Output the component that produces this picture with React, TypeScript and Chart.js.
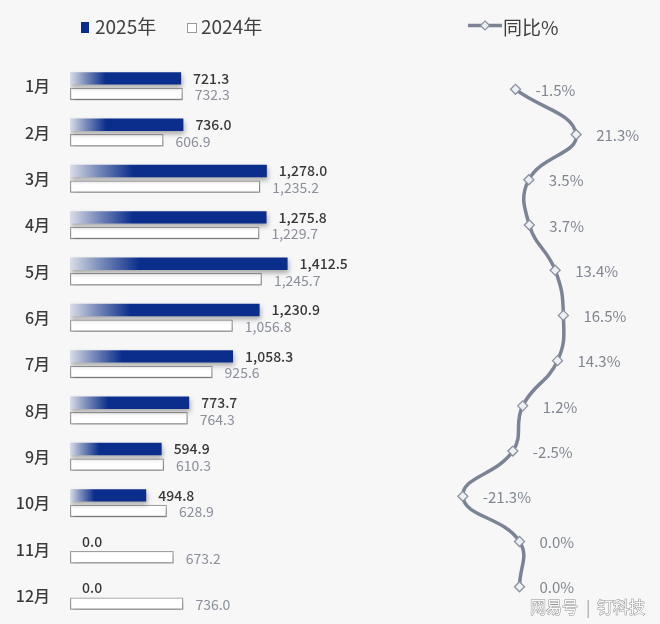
import React, { useEffect, useRef } from 'react';
import { Chart, registerables } from 'chart.js';

Chart.register(...registerables);

const months = ['1月', '2月', '3月', '4月', '5月', '6月', '7月', '8月', '9月', '10月', '11月', '12月'];
const sales2025 = [721.3, 736.0, 1278.0, 1275.8, 1412.5, 1230.9, 1058.3, 773.7, 594.9, 494.8, 0.0, 0.0];
const sales2024 = [732.3, 606.9, 1235.2, 1229.7, 1245.7, 1056.8, 925.6, 764.3, 610.3, 628.9, 673.2, 736.0];
const yoy = [-1.5, 21.3, 3.5, 3.7, 13.4, 16.5, 14.3, 1.2, -2.5, -21.3, 0.0, 0.0];
const legendNames = ['2025年', '2024年', '同比%'];
const watermark = ['网易号', '|', '钉科技'];

const FONT = "'Noto Sans CJK SC', 'Noto Sans', sans-serif";
const DARK = '#0b2e8c';
const LINE = '#7b8395';
const BG = '#f7f7f8';

const fmt = (v: number) =>
  v.toLocaleString('en-US', { minimumFractionDigits: 1, maximumFractionDigits: 1 });

const shadowPlugin = {
  id: 'barShadow',
  beforeDatasetDraw(chart: any) {
    const c = chart.ctx;
    c.save();
    c.shadowColor = 'rgba(0,0,0,0.32)';
    c.shadowBlur = 5;
    c.shadowOffsetX = 1;
    c.shadowOffsetY = 3;
  },
  afterDatasetDraw(chart: any) {
    chart.ctx.restore();
  },
};

const barLabelPlugin = {
  id: 'barLabels',
  afterDatasetsDraw(chart: any) {
    const c = chart.ctx;
    c.save();
    c.textAlign = 'left';
    c.textBaseline = 'middle';
    [0, 1].forEach((di) => {
      const meta = chart.getDatasetMeta(di);
      const data = chart.data.datasets[di].data as number[];
      c.font = `${di === 0 ? '500 ' : ''}14px ${FONT}`;
      c.fillStyle = di === 0 ? '#383838' : '#8a8f99';
      meta.data.forEach((el: any, i: number) => {
        c.fillText(fmt(data[i]), el.x + 12, el.y + (di === 0 ? 0 : 1));
      });
    });
    c.restore();
  },
  afterDraw(chart: any) {
    const c = chart.ctx;
    c.save();
    c.font = `19px ${FONT}`;
    c.textBaseline = 'middle';
    c.textAlign = 'left';
    c.fillStyle = DARK;
    c.fillRect(81, 22, 8, 11);
    c.fillStyle = '#404040';
    c.fillText(legendNames[0], 95, 27);
    c.fillStyle = '#ffffff';
    c.fillRect(187.5, 23.5, 9, 9);
    c.strokeStyle = '#9a9a9a';
    c.lineWidth = 1;
    c.strokeRect(187.5, 23.5, 9, 9);
    c.fillStyle = '#404040';
    c.fillText(legendNames[1], 201, 27);
    c.strokeStyle = LINE;
    c.lineWidth = 3.5;
    c.beginPath();
    c.moveTo(468, 25.5);
    c.lineTo(502, 25.5);
    c.stroke();
    c.beginPath();
    c.moveTo(485, 21);
    c.lineTo(489.5, 25.5);
    c.lineTo(485, 30);
    c.lineTo(480.5, 25.5);
    c.closePath();
    c.fillStyle = '#eef0f3';
    c.fill();
    c.lineWidth = 1.2;
    c.strokeStyle = '#8a91a1';
    c.stroke();
    c.fillStyle = '#404040';
    c.fillText(legendNames[2], 503, 28);
    c.font = `16px ${FONT}`;
    c.lineWidth = 1;
    c.strokeStyle = 'rgba(110,110,110,0.75)';
    c.fillStyle = 'rgba(255,255,255,0.95)';
    c.strokeText(watermark[0], 530, 607);
    c.fillText(watermark[0], 530, 607);
    c.fillStyle = 'rgba(140,140,140,0.8)';
    c.fillText(watermark[1], 586, 607);
    c.fillStyle = 'rgba(255,255,255,0.95)';
    c.strokeText(watermark[2], 597, 607);
    c.fillText(watermark[2], 597, 607);
    c.restore();
  },
};

const lineLabelPlugin = {
  id: 'lineLabels',
  afterDatasetsDraw(chart: any) {
    const c = chart.ctx;
    c.save();
    c.font = `15px ${FONT}`;
    c.textAlign = 'left';
    c.textBaseline = 'middle';
    c.fillStyle = '#80868f';
    chart.getDatasetMeta(0).data.forEach((el: any, i: number) => {
      c.fillText(`${yoy[i].toFixed(1)}%`, el.x + 20, el.y + 1);
    });
    c.restore();
  },
};

export default function App() {
  const barRef = useRef<HTMLCanvasElement>(null);
  const lineRef = useRef<HTMLCanvasElement>(null);

  useEffect(() => {
    if (!barRef.current || !lineRef.current) return;
    Chart.defaults.font.family = FONT;
    const barChart = new Chart(barRef.current, {
      type: 'bar',
      data: {
        labels: months,
        datasets: [
          {
            label: legendNames[0],
            data: sales2025,
            backgroundColor: (ctx: any) => {
              const ch = ctx.chart;
              if (!ch.chartArea || ctx.type !== 'data') return DARK;
              const v = ctx.raw as number;
              const x0 = ch.scales.x.getPixelForValue(0);
              const x1 = ch.scales.x.getPixelForValue(v);
              const w = x1 - x0;
              if (w < 1) return 'rgba(190,196,210,0.7)';
              const g = ch.ctx.createLinearGradient(x0, 0, x0 + w * 0.32, 0);
              g.addColorStop(0, '#d9dde6');
              g.addColorStop(0.4, '#8292bd');
              g.addColorStop(1, DARK);
              return g;
            },
            borderWidth: 0,
            categoryPercentage: 0.67,
            barPercentage: 0.8,
          } as any,
          {
            label: legendNames[1],
            data: sales2024,
            backgroundColor: '#ffffff',
            borderColor: '#a3a3a3',
            borderWidth: 1.3,
            borderSkipped: false,
            categoryPercentage: 0.67,
            barPercentage: 0.8,
          } as any,
        ],
      },
      options: {
        indexAxis: 'y',
        responsive: false,
        maintainAspectRatio: false,
        animation: false,
        layout: { padding: { top: 63, bottom: 5, left: 0, right: 0 }, autoPadding: false },
        plugins: {
          legend: { display: false },
          tooltip: { enabled: false },
          title: { display: false },
        },
        scales: {
          x: { type: 'linear', min: 0, max: 3830, display: false },
          y: {
            type: 'category',
            position: 'left',
            grid: { display: false, drawTicks: false },
            border: { display: false },
            ticks: { color: '#3a3a3a', font: { size: 16, family: FONT, weight: '500' }, padding: 20 },
            afterFit: (scale: any) => {
              scale.width = 70;
              scale.paddingTop = 0;
              scale.paddingBottom = 0;
            },
          },
        },
      } as any,
      plugins: [shadowPlugin, barLabelPlugin],
    });

    const lineChart = new Chart(lineRef.current, {
      type: 'line',
      data: {
        datasets: [
          {
            label: legendNames[2],
            data: yoy.map((v, i) => ({ x: v, y: i })),
            borderColor: LINE,
            borderWidth: 3.5,
            tension: 0.45,
            pointStyle: 'rectRot',
            pointRadius: 5,
            pointBackgroundColor: '#eef0f3',
            pointBorderColor: '#8a91a1',
            pointBorderWidth: 1.3,
            clip: false,
          } as any,
        ],
      },
      options: {
        indexAxis: 'y',
        responsive: false,
        maintainAspectRatio: false,
        animation: false,
        layout: { padding: 0, autoPadding: false },
        plugins: {
          legend: { display: false },
          tooltip: { enabled: false },
          title: { display: false },
        },
        scales: {
          x: { type: 'linear', min: -195.3, max: 52.82, display: false },
          y: { type: 'linear', min: -1.975, max: 11.824, reverse: true, display: false },
        },
      } as any,
      plugins: [lineLabelPlugin],
    });

    return () => {
      barChart.destroy();
      lineChart.destroy();
    };
  }, []);

  return (
    <div
      style={{
        position: 'fixed',
        left: 0,
        top: 0,
        width: 660,
        height: 624,
        background: BG,
      }}
    >
      <canvas
        ref={barRef}
        width={660}
        height={624}
        style={{ display: 'block', position: 'absolute', left: 0, top: 0 }}
      />
      <canvas
        ref={lineRef}
        width={660}
        height={624}
        style={{ display: 'block', position: 'absolute', left: 0, top: 0 }}
      />
    </div>
  );
}
